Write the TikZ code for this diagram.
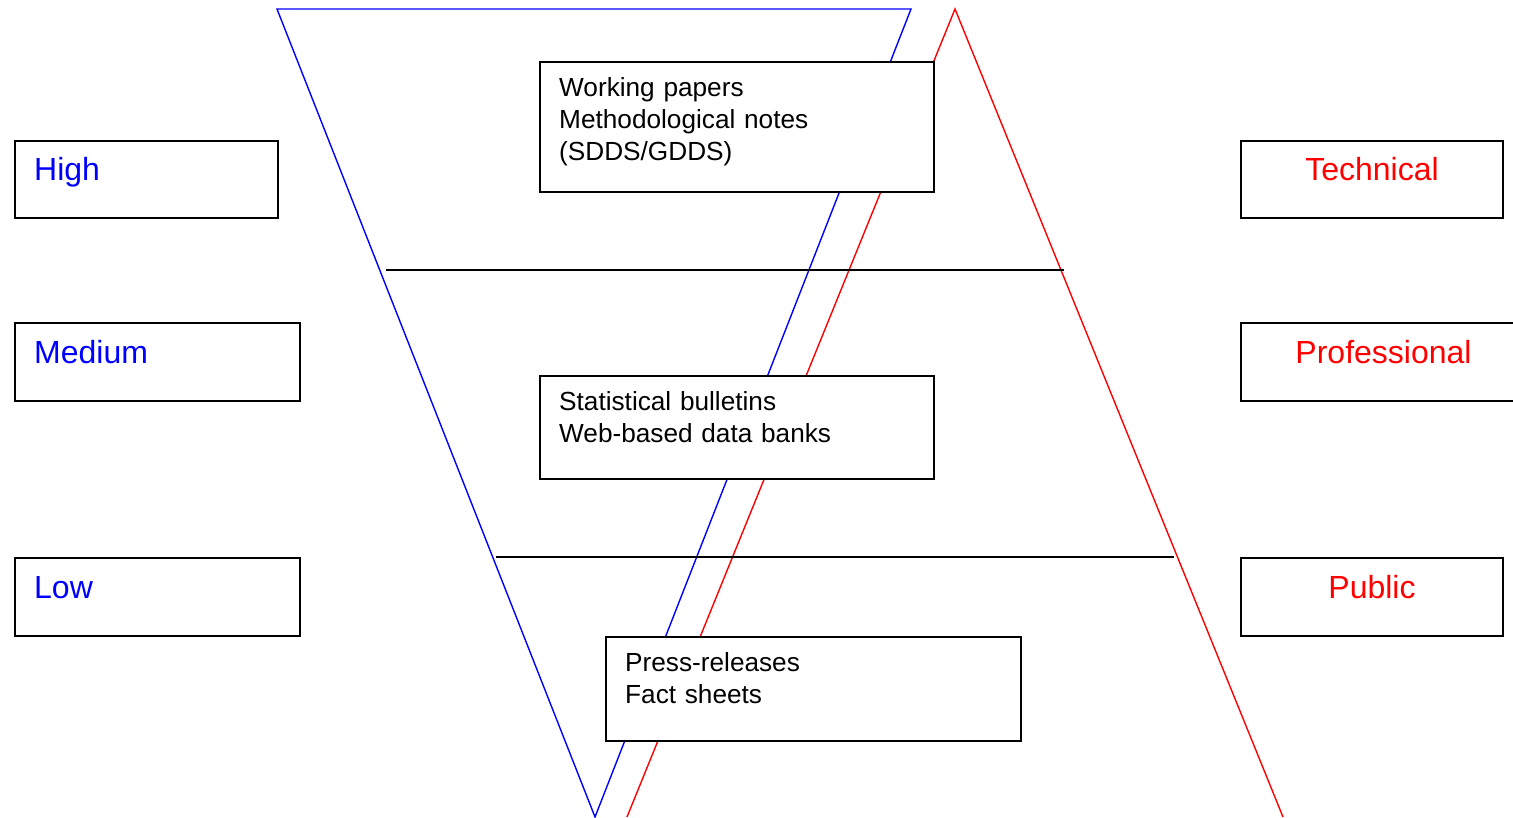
\documentclass[tikz,border=0pt]{standalone}
\usepackage{fontspec}
\setmainfont{Liberation Sans}
\usetikzlibrary{calc}
\definecolor{myblue}{RGB}{0,0,255}
\definecolor{myred}{RGB}{255,0,0}
\begin{document}
\begin{tikzpicture}[x=1pt,y=-1pt,
  box/.style={draw=black, line width=2pt, fill=white, inner sep=0pt, anchor=north west},
  lbl/.style={inner sep=0pt, anchor=base west, font=\fontsize{32}{38}\selectfont, text=myblue},
  rlbl/.style={inner sep=0pt, anchor=base, font=\fontsize{32}{38}\selectfont, text=myred},
  intext/.style={inner sep=0pt, anchor=base west, text width=380pt, align=left, font=\fontsize{26.2}{32}\selectfont},
  tri/.style={line width=1.4pt, line join=miter},
  level/.style={line width=1.6pt, draw=black}]
\useasboundingbox (0,0) rectangle (1513,817);
% triangles
\coordinate (bA) at (277,9);
\coordinate (bB) at (911,9);
\coordinate (bC) at (595,817);
\coordinate (rL) at (627,817);
\coordinate (rT) at (955,9);
\coordinate (rR) at (1283,817);
\draw[tri, myblue] (bA) -- (bB) -- (bC) -- cycle;
\draw[tri, myred] (rL) -- (rT) -- (rR);
% level lines
\coordinate (l1a) at (386,270);
\coordinate (l1b) at (1064,270);
\coordinate (l2a) at (496,557);
\coordinate (l2b) at (1174,557);
\draw[level] (l1a) -- (l1b);
\draw[level] (l2a) -- (l2b);
% left boxes
\node[box, minimum width=263pt, minimum height=77pt] (high) at (14,140) {};
\node[box, minimum width=285pt, minimum height=78pt] (medium) at (14,322) {};
\node[box, minimum width=285pt, minimum height=78pt] (low) at (14,557) {};
\node[lbl] (hight) at ($(high.north west)+(20,40)$) {High};
\node[lbl] (mediumt) at ($(medium.north west)+(20,41)$) {Medium};
\node[lbl] (lowt) at ($(low.north west)+(20,41)$) {Low};
% right boxes
\node[box, minimum width=262pt, minimum height=77pt] (tech) at (1240,140) {};
\node[box, minimum width=285pt, minimum height=78pt] (prof) at (1240,322) {};
\node[box, minimum width=262pt, minimum height=78pt] (pub) at (1240,557) {};
\node[rlbl] (techt) at ($(tech.north)+(0,40)$) {Technical};
\node[rlbl] (proft) at ($(prof.north)+(0,41)$) {Professional};
\node[rlbl] (pubt) at ($(pub.north)+(0,41)$) {Public};
% inner boxes
\node[box, minimum width=394pt, minimum height=130pt] (wp) at (539,61) {};
\node[box, minimum width=394pt, minimum height=103pt] (sb) at (539,375) {};
\node[box, minimum width=415pt, minimum height=104pt] (pr) at (605,636) {};
\node[intext] (wpt) at ($(wp.north west)+(20,35.5)$) {Working papers\\Methodological notes\\(SDDS/GDDS)};
\node[intext] (sbt) at ($(sb.north west)+(20,35.5)$) {Statistical bulletins\\Web-based data banks};
\node[intext] (prt) at ($(pr.north west)+(20,35.5)$) {Press-releases\\Fact sheets};
\end{tikzpicture}
\end{document}
